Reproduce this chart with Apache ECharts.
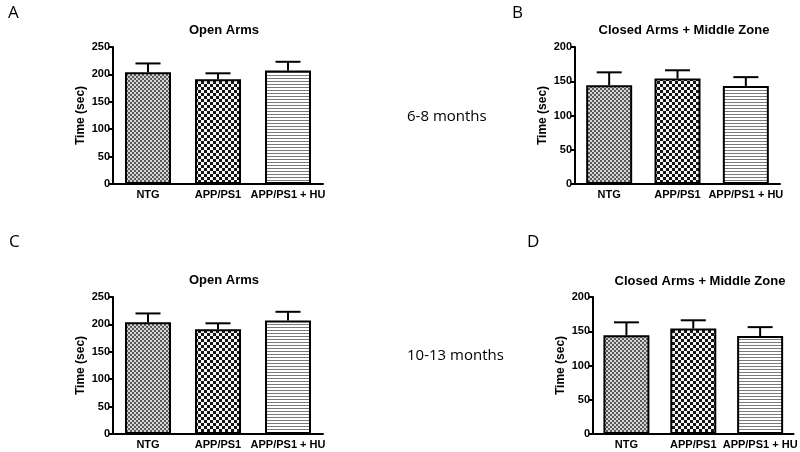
<!DOCTYPE html>
<html>
<head>
<meta charset="utf-8">
<script src="https://cdn.jsdelivr.net/npm/echarts@6/dist/echarts.min.js"></script>
<style>
html,body{margin:0;padding:0;background:#fff;}
#chart{width:800px;height:452px;}
</style>
</head>
<body>
<div id="chart"></div>
<script>
// ---- data ----
var groups = ['NTG', 'APP/PS1', 'APP/PS1 + HU'];
var openArmsTicks = [0, 50, 100, 150, 200, 250];
var closedArmsTicks = [0, 50, 100, 150, 200];
// 6-8 months
var openArms68Mean = [204, 191, 207];
var openArms68Sem = [16, 11, 16];
var closedArms68Mean = [144, 154, 143];
var closedArms68Sem = [19, 12, 13];
// 10-13 months
var openArms1013Mean = [204, 191, 207];
var openArms1013Sem = [16, 11, 16];
var closedArms1013Mean = [144, 154, 143];
var closedArms1013Sem = [19, 12, 13];
var panelTitles = ['Open Arms', 'Closed Arms + Middle Zone', 'Open Arms', 'Closed Arms + Middle Zone'];
var panelLetters = ['A', 'B', 'C', 'D'];
var ageLabels = ['6-8 months', '10-13 months'];

// ---- patterns ----
function makePattern(w, h, draw) {
  var c = document.createElement('canvas');
  c.width = w; c.height = h;
  var ctx = c.getContext('2d');
  draw(ctx);
  return { image: c, repeat: 'repeat' };
}
var patNTG = makePattern(4, 4, function (ctx) {
  ctx.fillStyle = '#d6d6d6'; ctx.fillRect(0, 0, 4, 4);
  ctx.fillStyle = '#5a5a5a'; ctx.fillRect(0, 0, 2, 2); ctx.fillRect(2, 2, 2, 2);
});
var patAPP = makePattern(6, 6, function (ctx) {
  ctx.fillStyle = '#f4f4f4'; ctx.fillRect(0, 0, 6, 6);
  ctx.fillStyle = '#151515'; ctx.fillRect(0, 0, 3, 3); ctx.fillRect(3, 3, 3, 3);
});
var patHU = makePattern(3, 3, function (ctx) {
  ctx.fillStyle = '#ffffff'; ctx.fillRect(0, 0, 3, 3);
  ctx.fillStyle = '#7a7a7a'; ctx.fillRect(0, 0, 3, 1);
});
var patterns = [patNTG, patAPP, patHU];

// ---- layout ----
var grids = [
  { left: 113, top: 47, width: 210, height: 137 },
  { left: 575, top: 47, width: 205, height: 137 },
  { left: 113, top: 297, width: 210, height: 137 },
  { left: 593, top: 297, width: 204, height: 137 }
];
var panels = [
  { mean: openArms68Mean, sem: openArms68Sem, ticks: openArmsTicks },
  { mean: closedArms68Mean, sem: closedArms68Sem, ticks: closedArmsTicks },
  { mean: openArms1013Mean, sem: openArms1013Sem, ticks: openArmsTicks },
  { mean: closedArms1013Mean, sem: closedArms1013Sem, ticks: closedArmsTicks }
];
var titlePos = [
  { x: 219, y: 19 }, { x: 679, y: 19 }, { x: 219, y: 269 }, { x: 695, y: 270 }
];
var letterPos = [
  { x: 3, y: 0 }, { x: 507, y: 0 }, { x: 4, y: 229 }, { x: 522, y: 229 }
];

var axisFont = { fontFamily: 'Liberation Sans, Arial, sans-serif', fontWeight: 'bold', fontSize: 11, color: '#000' };

var option = {
  animation: false,
  backgroundColor: '#fff',
  title: [],
  grid: grids.map(function (g) { return Object.assign({ containLabel: false }, g); }),
  xAxis: [],
  yAxis: [],
  series: [],
  graphic: []
};

panels.forEach(function (p, i) {
  var t = p.ticks;
  option.title.push({
    text: panelTitles[i], left: titlePos[i].x, top: titlePos[i].y, textAlign: 'center',
    textStyle: { fontFamily: 'Liberation Sans, Arial, sans-serif', fontWeight: 'bold', fontSize: 13, color: '#000' }
  });
  option.title.push({
    text: panelLetters[i], left: letterPos[i].x, top: letterPos[i].y,
    textStyle: { fontFamily: 'Open Sans, Noto Sans, sans-serif', fontWeight: 'normal', fontSize: 17, color: '#000' }
  });
  option.xAxis.push({
    type: 'category', gridIndex: i, data: groups,
    axisLine: { lineStyle: { color: '#000', width: 2 } },
    axisTick: { show: false },
    axisLabel: Object.assign({ margin: 5, interval: 0 }, axisFont),
    splitLine: { show: false }
  });
  option.yAxis.push({
    type: 'value', gridIndex: i, min: t[0], max: t[t.length - 1], interval: t[1] - t[0],
    name: 'Time (sec)', nameLocation: 'middle', nameGap: 26,
    nameTextStyle: { fontFamily: 'Liberation Sans, Arial, sans-serif', fontWeight: 'bold', fontSize: 12, color: '#000' },
    axisLine: { show: true, lineStyle: { color: '#000', width: 2 } },
    axisTick: { show: true, length: 4, lineStyle: { color: '#000', width: 2 } },
    axisLabel: Object.assign({ margin: 3 }, axisFont),
    splitLine: { show: false }
  });
  option.series.push({
    type: 'bar', xAxisIndex: i, yAxisIndex: i, barWidth: 46, z: 2,
    data: p.mean.map(function (v, k) {
      return { value: v, itemStyle: { color: patterns[k], borderColor: '#000', borderWidth: 2 } };
    })
  });
  option.series.push({
    type: 'custom', xAxisIndex: i, yAxisIndex: i, z: 1,
    data: p.mean.map(function (v, k) { return [k, v, v + p.sem[k]]; }),
    renderItem: function (params, api) {
      var base = api.coord([api.value(0), api.value(1)]);
      var top = api.coord([api.value(0), api.value(2)]);
      var hw = 12.5;
      var st = { stroke: '#000', lineWidth: 2, fill: null };
      return {
        type: 'group',
        children: [
          { type: 'line', shape: { x1: base[0], y1: base[1], x2: top[0], y2: top[1] }, style: st },
          { type: 'line', shape: { x1: top[0] - hw, y1: top[1], x2: top[0] + hw, y2: top[1] }, style: st }
        ]
      };
    }
  });
});

option.graphic.push({
  type: 'text', left: 407, top: 109,
  style: { text: ageLabels[0], font: '15px "Open Sans", "Noto Sans", sans-serif', fill: '#000' }
});
option.graphic.push({
  type: 'text', left: 407, top: 348,
  style: { text: ageLabels[1], font: '15px "Open Sans", "Noto Sans", sans-serif', fill: '#000' }
});

var chart = echarts.init(document.getElementById('chart'), null, { renderer: 'canvas' });
chart.setOption(option);
</script>
</body>
</html>
